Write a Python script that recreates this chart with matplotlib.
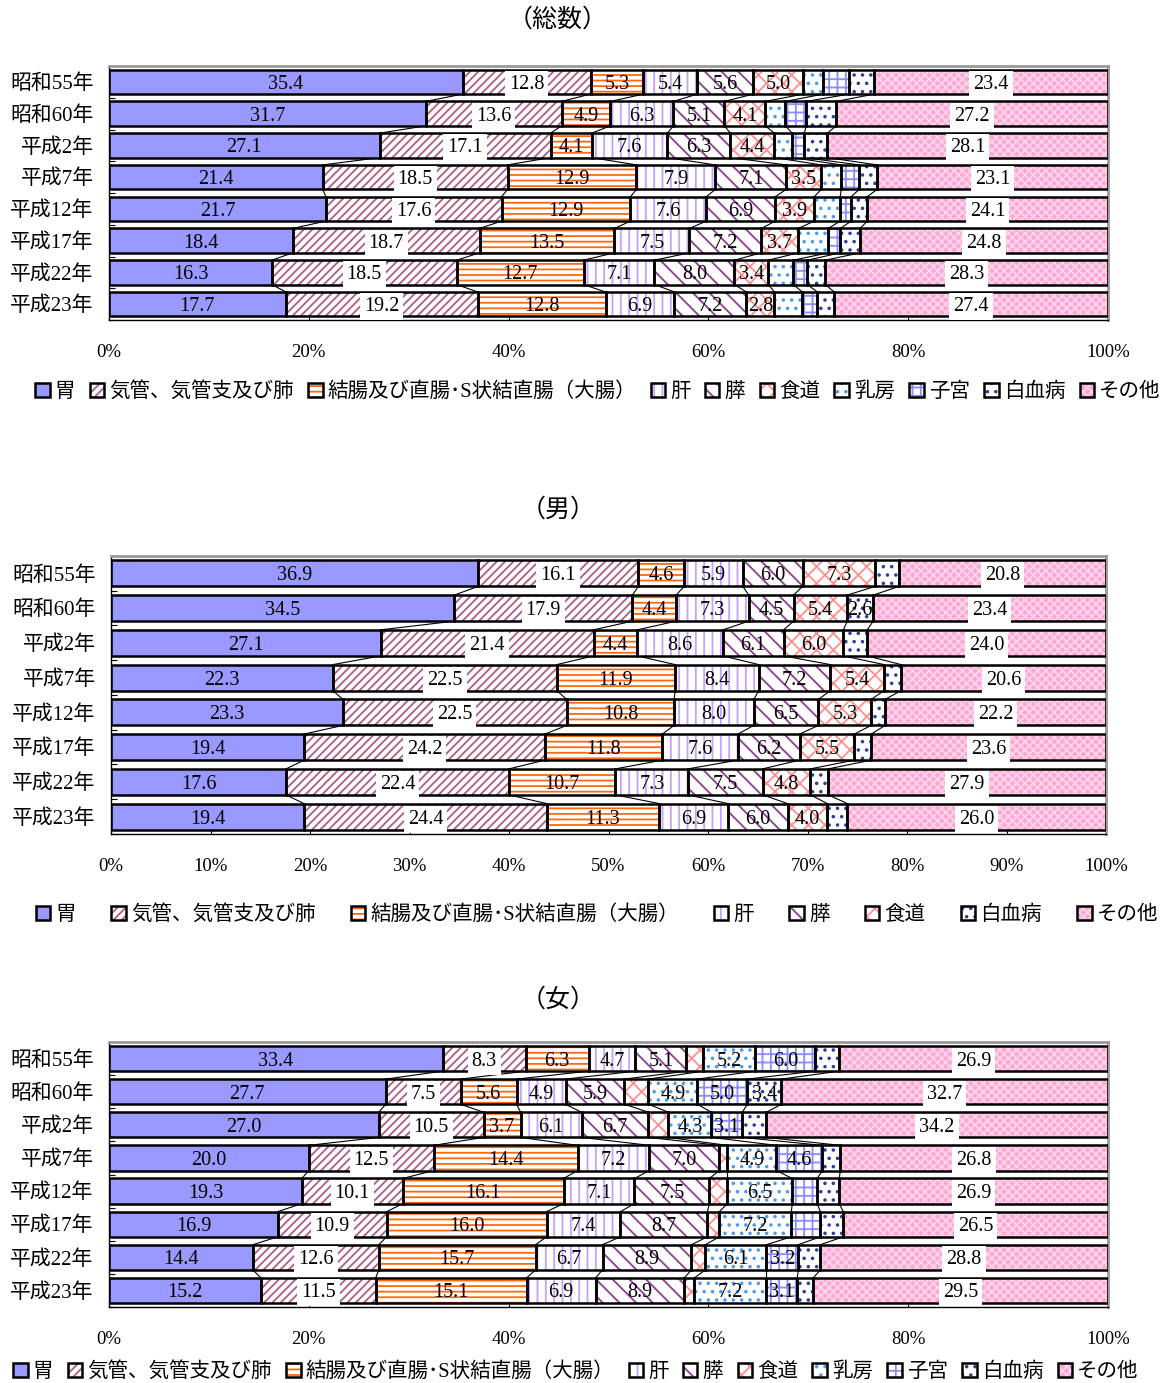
import matplotlib
matplotlib.use('Agg')
import matplotlib.pyplot as plt
from matplotlib.patches import Patch
import numpy as np

plt.rcParams['font.family'] = ['Liberation Serif', 'Noto Sans CJK JP']
plt.rcParams['hatch.linewidth'] = 1.3

years = ['昭和55年', '昭和60年', '平成2年', '平成7年', '平成12年',
         '平成17年', '平成22年', '平成23年']

sites_all = ['胃', '気管、気管支及び肺', '結腸及び直腸･S状結直腸（大腸）', '肝', '膵',
             '食道', '乳房', '子宮', '白血病', 'その他']
sites_male = ['胃', '気管、気管支及び肺', '結腸及び直腸･S状結直腸（大腸）', '肝', '膵',
              '食道', '白血病', 'その他']

# percent by year (rows) and site (columns)
total_pct = [
    [35.4, 12.8, 5.3, 5.4, 5.6, 5.0, 2.0, 2.6, 2.5, 23.4],
    [31.7, 13.6, 4.9, 6.3, 5.1, 4.1, 2.0, 2.1, 3.0, 27.2],
    [27.1, 17.1, 4.1, 7.6, 6.3, 4.4, 1.8, 1.2, 2.3, 28.1],
    [21.4, 18.5, 12.9, 7.9, 7.1, 3.5, 2.0, 1.8, 1.8, 23.1],
    [21.7, 17.6, 12.9, 7.6, 6.9, 3.9, 2.6, 1.1, 1.6, 24.1],
    [18.4, 18.7, 13.5, 7.5, 7.2, 3.7, 3.0, 1.2, 2.0, 24.8],
    [16.3, 18.5, 12.7, 7.1, 8.0, 3.4, 2.5, 1.4, 1.8, 28.3],
    [17.7, 19.2, 12.8, 6.9, 7.2, 2.8, 2.8, 1.5, 1.7, 27.4],
]
male_pct = [
    [36.9, 16.1, 4.6, 5.9, 6.0, 7.3, 2.4, 20.8],
    [34.5, 17.9, 4.4, 7.3, 4.5, 5.4, 2.6, 23.4],
    [27.1, 21.4, 4.4, 8.6, 6.1, 6.0, 2.4, 24.0],
    [22.3, 22.5, 11.9, 8.4, 7.2, 5.4, 1.7, 20.6],
    [23.3, 22.5, 10.8, 8.0, 6.5, 5.3, 1.4, 22.2],
    [19.4, 24.2, 11.8, 7.6, 6.2, 5.5, 1.7, 23.6],
    [17.6, 22.4, 10.7, 7.3, 7.5, 4.8, 1.8, 27.9],
    [19.4, 24.4, 11.3, 6.9, 6.0, 4.0, 2.0, 26.0],
]
female_pct = [
    [33.4, 8.3, 6.3, 4.7, 5.1, 1.7, 5.2, 6.0, 2.4, 26.9],
    [27.7, 7.5, 5.6, 4.9, 5.9, 2.4, 4.9, 5.0, 3.4, 32.7],
    [27.0, 10.5, 3.7, 6.1, 6.7, 2.0, 4.3, 3.1, 2.4, 34.2],
    [20.0, 12.5, 14.4, 7.2, 7.0, 0.8, 4.9, 4.6, 1.8, 26.8],
    [19.3, 10.1, 16.1, 7.1, 7.5, 1.8, 6.5, 2.5, 2.2, 26.9],
    [16.9, 10.9, 16.0, 7.4, 8.7, 1.2, 7.2, 2.9, 2.3, 26.5],
    [14.4, 12.6, 15.7, 6.7, 8.9, 1.4, 6.1, 3.2, 2.2, 28.8],
    [15.2, 11.5, 15.1, 6.9, 8.9, 1.0, 7.2, 3.1, 1.6, 29.5],
]

# face, hatch, hatch colour
styles = {
    '胃': ('#9999FF', None, '#9999FF'),
    '気管、気管支及び肺': ('white', '////', '#B05C88'),
    '結腸及び直腸･S状結直腸（大腸）': ('white', '---', '#FF6A10'),
    '肝': ('white', '||', '#C8A0FF'),
    '膵': ('white', '\\\\', '#8E3D96'),
    '食道': ('white', 'xx', '#FF9090'),
    '乳房': ('white', '..', '#4A9AF0'),
    '子宮': ('white', '++', '#8C8CFF'),
    '白血病': ('white', '..', '#2E3A9E'),
    'その他': ('#FFA6D2', 'xxxx', '#FFD6EC'),
}
boxed = ['気管、気管支及び肺', 'その他']

W, H = 1171, 1383
fig = plt.figure(figsize=(W / 100, H / 100), dpi=100)


def panel(rect, data, sites, step, bar_h, hide, min_lab, title, title_y, leg_y, leg_x, colsp):
    ax = fig.add_axes([rect[0] / W, 1 - rect[3] / H, (rect[2] - rect[0]) / W, (rect[3] - rect[1]) / H])
    arr = np.array(data)
    n = len(years)
    y = np.arange(n)
    left = np.zeros(n)
    for j, s in enumerate(sites):
        fc, hatch, hc = styles[s]
        ax.barh(y, arr[:, j], left=left, height=bar_h, color=fc, hatch=hatch,
                edgecolor=hc, linewidth=0, zorder=2)
        ax.barh(y, arr[:, j], left=left, height=bar_h, fill=False,
                edgecolor='black', linewidth=1.8, zorder=3)
        for i in range(n):
            v = arr[i, j]
            if v < min_lab or s in hide:
                continue
            kw = {}
            if s in boxed:
                kw['bbox'] = dict(boxstyle='square,pad=0.2', fc='white', ec='none')
            ax.text(left[i] + v / 2, y[i], f'{v:.1f}', ha='center', va='center_baseline',
                    fontsize=14.5, zorder=5, **kw)
        left = left + arr[:, j]
    # series lines between bars
    cum = np.cumsum(arr, axis=1)[:, :-1]
    for i in range(n - 1):
        for k in range(cum.shape[1]):
            ax.plot([cum[i, k], cum[i + 1, k]], [i + bar_h / 2, i + 1 - bar_h / 2],
                    color='black', lw=0.8, zorder=1)
    ax.set_xlim(0, 100)
    ax.set_ylim(n - 0.5, -0.5)
    ax.set_xticks(np.arange(0, 101, step))
    ax.set_xticklabels([f'{t}%' for t in range(0, 101, step)])
    ax.set_yticks(y)
    ax.set_yticklabels(years)
    ax.set_yticks(np.arange(n + 1) - 0.5, minor=True)
    ax.tick_params(axis='y', which='major', length=0, pad=11, labelsize=15)
    ax.tick_params(axis='y', which='minor', direction='in', length=4, width=0.8)
    ax.tick_params(axis='x', direction='in', length=5, width=0.8, pad=17, labelsize=13.5)
    for sp in ['top', 'right']:
        ax.spines[sp].set_color('#999999')
        ax.spines[sp].set_linewidth(2)
    for sp in ['left', 'bottom']:
        ax.spines[sp].set_color('black')
        ax.spines[sp].set_linewidth(1)
    fig.text(558 / W, 1 - title_y / H, title, ha='center', va='center', fontsize=18)
    handles = []
    for s in sites:
        fc, hatch, hc = styles[s]
        handles.append((Patch(facecolor=fc, hatch=hatch, edgecolor=hc, lw=0),
                        Patch(fill=False, edgecolor='black', lw=1.8)))
    fig.legend(handles, sites, loc='center', bbox_to_anchor=(leg_x / W, 1 - leg_y / H),
               ncol=len(sites), frameon=False, fontsize=14.8, handlelength=0.7,
               handleheight=0.7, handletextpad=0.25, columnspacing=colsp,
               borderaxespad=0)
    return ax


panel((109, 66, 1108, 320), total_pct, sites_all, 20, 0.77,
      ['乳房', '子宮', '白血病'], 2.5, '（総数）', 20, 392, 598, 0.7)
panel((111, 556, 1106, 834), male_pct, sites_male, 10, 0.75,
      [], 2.5, '（男）', 510, 915, 597, 1.72)
panel((109, 1042, 1108, 1307), female_pct, sites_all, 20, 0.76,
      [], 3.0, '（女）', 1000, 1372, 576, 0.7)

fig.savefig('out.png', dpi=100)
